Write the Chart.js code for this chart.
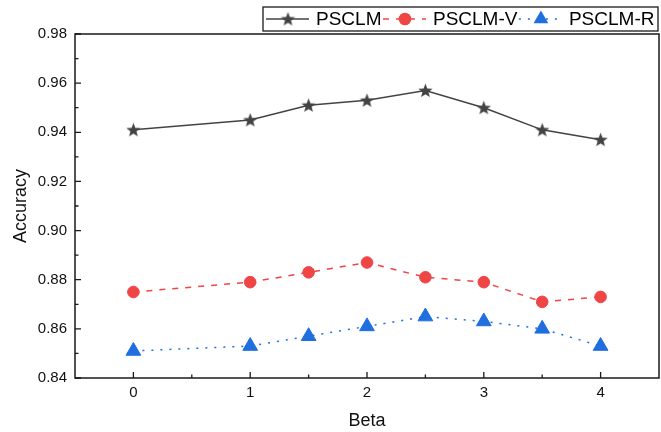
<!DOCTYPE html>
<html><head><meta charset="utf-8">
<script src="https://cdn.jsdelivr.net/npm/chart.js@4"></script>
<style>html,body{margin:0;padding:0;background:#fff}#wrap{width:661px;height:432px}</style>
</head><body><div id="wrap"><canvas id="c" width="661" height="432"></canvas></div>
<script>
const betaValues = [0, 1, 1.5, 2, 2.5, 3, 3.5, 4];
const psclm = [0.941, 0.945, 0.951, 0.953, 0.957, 0.950, 0.941, 0.937];
const psclmV = [0.875, 0.879, 0.883, 0.887, 0.881, 0.879, 0.871, 0.873];
const psclmR = [0.851, 0.853, 0.857, 0.861, 0.865, 0.863, 0.860, 0.853];
const seriesNames = ['PSCLM', 'PSCLM-V', 'PSCLM-R'];
const xTickValues = [0, 1, 2, 3, 4];
const yTickValues = [0.84, 0.86, 0.88, 0.90, 0.92, 0.94, 0.96, 0.98];
const xTitle = 'Beta';
const yTitle = 'Accuracy';

const GRAY = '#434343', RED = '#ef4545', BLUE = '#1f6fdf';
const FONT = '"Liberation Sans", Arial, sans-serif';

function makeStar(outer, color) {
  const s = Math.ceil(outer * 2 + 2);
  const cv = document.createElement('canvas');
  cv.width = s; cv.height = s;
  const g = cv.getContext('2d');
  const c = s / 2, inner = outer * 0.42;
  g.beginPath();
  for (let i = 0; i < 10; i++) {
    const r = i % 2 === 0 ? outer : inner;
    const a = -Math.PI / 2 + i * Math.PI / 5;
    const px = c + r * Math.cos(a), py = c + r * Math.sin(a) + 0.5;
    i === 0 ? g.moveTo(px, py) : g.lineTo(px, py);
  }
  g.closePath();
  g.fillStyle = color; g.fill();
  return cv;
}
const starImg = makeStar(7.5, GRAY);

const toPts = arr => betaValues.map((b, i) => ({ x: b, y: arr[i] }));

const frameTicks = {
  id: 'frameTicks',
  beforeDatasetsDraw(chart) {
    const { ctx, chartArea: a, scales: { x, y } } = chart;
    ctx.save();
    ctx.strokeStyle = '#1a1a1a';
    ctx.lineWidth = 1.5;
    ctx.strokeRect(a.left, a.top, a.right - a.left, a.bottom - a.top);
    ctx.lineWidth = 1.3;
    ctx.beginPath();
    const xMinor = xTickValues.slice(1).map((v, i) => (v + xTickValues[i]) / 2);
    const yMinor = yTickValues.slice(1).map((v, i) => (v + yTickValues[i]) / 2);
    xTickValues.forEach(v => { const p = x.getPixelForValue(v); ctx.moveTo(p, a.bottom); ctx.lineTo(p, a.bottom - 6); });
    xMinor.forEach(v => { const p = x.getPixelForValue(v); ctx.moveTo(p, a.bottom); ctx.lineTo(p, a.bottom - 3.5); });
    yTickValues.forEach(v => { const p = y.getPixelForValue(v); ctx.moveTo(a.left, p); ctx.lineTo(a.left + 6, p); });
    yMinor.forEach(v => { const p = y.getPixelForValue(v); ctx.moveTo(a.left, p); ctx.lineTo(a.left + 3.5, p); });
    ctx.stroke();
    ctx.restore();
  }
};

const boxLegend = {
  id: 'boxLegend',
  afterDraw(chart) {
    const ctx = chart.ctx;
    ctx.save();
    const bx = 263, by = 7, bw = 395, bh = 24;
    ctx.strokeStyle = '#1a1a1a'; ctx.lineWidth = 1.3;
    ctx.strokeRect(bx, by, bw, bh);
    ctx.font = '19px ' + FONT;
    ctx.textBaseline = 'middle';
    ctx.fillStyle = '#000';
    const cy = by + bh / 2;
    let xx = bx + 3;
    chart.data.datasets.forEach((ds, i) => {
      ctx.save();
      ctx.strokeStyle = ds.borderColor;
      ctx.lineWidth = ds.borderWidth;
      ctx.setLineDash(ds.borderDash || []);
      ctx.beginPath(); ctx.moveTo(xx, cy); ctx.lineTo(xx + 43, cy); ctx.stroke();
      ctx.restore();
      const mx = xx + 22;
      if (ds.pointStyle === starImg) {
        ctx.drawImage(starImg, mx - starImg.width / 2, cy - starImg.height / 2);
      } else if (ds.pointStyle === 'circle') {
        ctx.fillStyle = ds.pointBackgroundColor;
        ctx.beginPath(); ctx.arc(mx, cy, ds.pointRadius + 0.5, 0, Math.PI * 2); ctx.fill();
      } else {
        const r = ds.pointRadius;
        ctx.fillStyle = ds.pointBackgroundColor;
        ctx.beginPath();
        for (let k = 0; k < 3; k++) {
          const ang = k * 2 * Math.PI / 3;
          const px = mx + Math.sin(ang) * r, py = cy - Math.cos(ang) * r;
          k === 0 ? ctx.moveTo(px, py) : ctx.lineTo(px, py);
        }
        ctx.closePath(); ctx.fill();
      }
      ctx.fillStyle = '#000';
      ctx.fillText(ds.label, xx + 50, cy + 1);
      xx = xx + 50 + ctx.measureText(ds.label).width + 1.5;
    });
    ctx.restore();
  }
};

new Chart(document.getElementById('c'), {
  type: 'scatter',
  data: {
    datasets: [
      { label: seriesNames[0], data: toPts(psclm), showLine: true, borderColor: GRAY, borderWidth: 1.5,
        pointStyle: starImg, pointRadius: 7, pointBackgroundColor: GRAY, pointBorderColor: GRAY },
      { label: seriesNames[1], data: toPts(psclmV), showLine: true, borderColor: RED, borderWidth: 1.5, borderDash: [6, 7],
        pointStyle: 'circle', pointRadius: 5.8, pointBackgroundColor: RED, pointBorderColor: RED, pointBorderWidth: 1 },
      { label: seriesNames[2], data: toPts(psclmR), showLine: true, borderColor: BLUE, borderWidth: 1.5, borderDash: [2, 7],
        pointStyle: 'triangle', pointRadius: 8.5, pointBackgroundColor: BLUE, pointBorderColor: BLUE, pointBorderWidth: 1 }
    ]
  },
  options: {
    responsive: false,
    devicePixelRatio: 1,
    animation: false,
    layout: { autoPadding: false, padding: { top: 34, right: 2, left: 0, bottom: 0 } },
    plugins: { legend: { display: false }, tooltip: { enabled: false } },
    scales: {
      x: {
        type: 'linear', min: -0.5, max: 4.5,
        afterBuildTicks: s => { s.ticks = xTickValues.map(v => ({ value: v })); },
        afterFit: s => { s.height = 54; s.paddingLeft = 0; s.paddingRight = 0; },
        grid: { display: false, drawTicks: false },
        border: { display: false },
        ticks: { padding: 6, color: '#111', font: { family: FONT, size: 15 }, callback: v => String(v) },
        title: { display: true, text: xTitle, color: '#111', font: { family: FONT, size: 18 }, padding: { top: 4, bottom: 0 } }
      },
      y: {
        type: 'linear', min: 0.84, max: 0.98,
        afterBuildTicks: s => { s.ticks = yTickValues.map(v => ({ value: v })); },
        afterFit: s => { s.width = 75; s.paddingTop = 0; s.paddingBottom = 0; },
        grid: { display: false, drawTicks: false },
        border: { display: false },
        ticks: { padding: 8, color: '#111', font: { family: FONT, size: 15 }, callback: v => Number(v).toFixed(2) },
        title: { display: true, text: yTitle, color: '#111', font: { family: FONT, size: 18 }, padding: { top: 10, bottom: 0 } }
      }
    }
  },
  plugins: [frameTicks, boxLegend]
});
</script>
</body></html>
